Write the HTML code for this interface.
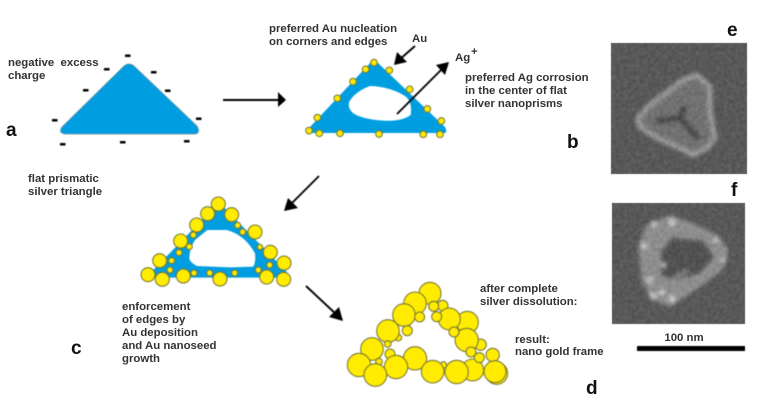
<!DOCTYPE html>
<html><head><meta charset="utf-8">
<style>
html,body{margin:0;padding:0;background:#fff;width:757px;height:407px;overflow:hidden}
svg{display:block;position:absolute;left:0;top:0}
text{font-family:"Liberation Sans",sans-serif;font-weight:bold}
.t{font-size:11.4px;fill:#333}
.l{font-size:19px;fill:#111}
.g1 circle{fill:#ffec00;stroke:#7a7836;stroke-width:3.2}
.m{fill:#000}
</style></head><body>
<svg width="757" height="407" viewBox="0 0 757 407" xmlns="http://www.w3.org/2000/svg">
<defs>
<filter id="b" x="-5%" y="-5%" width="110%" height="110%" color-interpolation-filters="sRGB"><feGaussianBlur stdDeviation="0.4"/></filter>
<filter id="tb" x="-5%" y="-20%" width="110%" height="140%" color-interpolation-filters="sRGB"><feGaussianBlur stdDeviation="0.35"/></filter>
<filter id="sem" x="-10%" y="-10%" width="120%" height="120%" color-interpolation-filters="sRGB"><feGaussianBlur stdDeviation="2"/></filter>
<filter id="noise" x="0" y="0" width="100%" height="100%" color-interpolation-filters="sRGB"><feTurbulence type="fractalNoise" baseFrequency="0.25" numOctaves="2" seed="4"/><feColorMatrix type="matrix" values="0.9 0 0 0 -0.1 0.9 0 0 0 -0.1 0.9 0 0 0 -0.1 0 0 0 0 0.14"/></filter>
<clipPath id="ce"><rect x="611" y="43" width="136" height="131"/></clipPath>
<clipPath id="cf"><rect x="612" y="203" width="133" height="121"/></clipPath>
</defs>

<g filter="url(#b)">
<!-- a -->
<path d="M124 66 Q129 62 134 66 L197 126 Q201 133 195 134 L65 134 Q58 133 62 127 Z" fill="#009ee0" stroke="#6a8a9a" stroke-width="0.7"/>
<g class="m">
<rect x="125" y="54.5" width="5.5" height="2.5"/><rect x="104" y="68" width="5.5" height="2.5"/><rect x="83" y="89" width="5.5" height="2.5"/>
<rect x="52" y="119" width="5.5" height="2.5"/><rect x="60" y="143" width="5.5" height="2.5"/><rect x="120" y="141" width="5.5" height="2.5"/>
<rect x="184" y="140" width="5.5" height="2.5"/><rect x="196" y="117.5" width="5.5" height="2.5"/><rect x="165" y="89.5" width="5.5" height="2.5"/><rect x="151" y="71" width="5.5" height="2.5"/>
</g>

<!-- b -->
<path d="M372 61 Q375 60 378 63 L445 127 Q448 133 444 133 L312 133 Q306 133 310 127 Z" fill="#009ee0"/>
<g transform="translate(260 10) scale(0.3333)">
<path d="M268 275 Q285 245 330 228 Q390 230 435 258 Q458 275 452 315 Q425 335 370 332 Q310 328 280 310 Q262 295 268 275Z" fill="#fff"/>
<g class="g1">
<circle cx="342" cy="158" r="10"/><circle cx="317" cy="178" r="10"/><circle cx="279" cy="215" r="10"/><circle cx="232" cy="265" r="10"/>
<circle cx="172" cy="323" r="10"/><circle cx="147" cy="362" r="10"/><circle cx="178" cy="370" r="10"/><circle cx="240" cy="370" r="10"/>
<circle cx="357" cy="372" r="10"/><circle cx="490" cy="373" r="10"/><circle cx="540" cy="373" r="10"/><circle cx="544" cy="333" r="10"/>
<circle cx="502" cy="297" r="10"/><circle cx="449" cy="238" r="10"/><circle cx="388" cy="181" r="10"/>
</g></g>

<!-- c -->
<g transform="translate(130 190) scale(0.3333)">
<path d="M255 50 L280 50 L470 245 L475 263 L70 263 L60 250 Z" fill="#009ee0"/>
<path d="M232 120 L290 120 Q345 135 375 190 Q378 215 370 230 L300 232 L200 228 Q178 215 178 205 Q178 175 195 150 Z" fill="#fff"/>
<g class="g1">
<circle cx="265" cy="42" r="21"/><circle cx="233" cy="71" r="21"/><circle cx="305" cy="74" r="21"/><circle cx="200" cy="105" r="21"/>
<circle cx="323" cy="106" r="9"/><circle cx="338" cy="126" r="9"/><circle cx="375" cy="126" r="21"/><circle cx="190" cy="135" r="9"/>
<circle cx="152" cy="153" r="21"/><circle cx="178" cy="170" r="9"/><circle cx="390" cy="171" r="8"/><circle cx="421" cy="187" r="21"/>
<circle cx="147" cy="188" r="9"/><circle cx="89" cy="212" r="21"/><circle cx="125" cy="212" r="9"/><circle cx="462" cy="219" r="21"/>
<circle cx="419" cy="225" r="9"/><circle cx="120" cy="240" r="9"/><circle cx="385" cy="240" r="9"/><circle cx="54" cy="254" r="21"/>
<circle cx="97" cy="268" r="21"/><circle cx="160" cy="258" r="21"/><circle cx="192" cy="249" r="9"/><circle cx="239" cy="249" r="9"/>
<circle cx="314" cy="249" r="9"/><circle cx="270" cy="267" r="21"/><circle cx="410" cy="261" r="21"/><circle cx="461" cy="268" r="21"/>
</g></g>

<!-- d -->
<g transform="translate(340 275) scale(0.3333)"><g class="g1">
<circle cx="308" cy="92" r="16"/><circle cx="270" cy="55" r="33"/><circle cx="225" cy="85" r="34"/><circle cx="192" cy="120" r="34"/>
<circle cx="281" cy="94" r="15"/><circle cx="239" cy="126" r="15"/><circle cx="382" cy="142" r="33"/><circle cx="328" cy="132" r="33"/>
<circle cx="290" cy="125" r="15"/><circle cx="175" cy="188" r="10"/><circle cx="144" cy="168" r="34"/><circle cx="202" cy="167" r="15"/>
<circle cx="422" cy="209" r="17"/><circle cx="380" cy="195" r="35"/><circle cx="342" cy="171" r="15"/><circle cx="143" cy="207" r="10"/>
<circle cx="96" cy="222" r="34"/><circle cx="150" cy="237" r="15"/><circle cx="117" cy="260" r="10"/><circle cx="225" cy="250" r="35"/>
<circle cx="458" cy="240" r="20"/><circle cx="393" cy="231" r="15"/><circle cx="57" cy="270" r="35"/><circle cx="168" cy="276" r="35"/>
<circle cx="106" cy="300" r="34"/><circle cx="310" cy="270" r="10"/><circle cx="398" cy="285" r="33"/><circle cx="418" cy="248" r="15"/>
<circle cx="278" cy="290" r="34"/><circle cx="350" cy="291" r="35"/><circle cx="470" cy="295" r="33"/><circle cx="465" cy="290" r="33"/>
</g></g>

<!-- arrows -->
<g fill="#000" stroke="none">
<rect x="223" y="99" width="56" height="2"/><path d="M278 92 L286 100 L278 107Z"/>
</g>
<g stroke="#000" stroke-width="1.9" fill="none">
<line x1="415" y1="46" x2="399" y2="60"/><line x1="397" y1="114" x2="443" y2="68"/>
<line x1="319" y1="176" x2="290" y2="205"/><line x1="306" y1="286" x2="337" y2="315"/>
</g>
<g fill="#000">
<path d="M394 65 L397 52 L407 62Z"/>
<path d="M449 62 L445 75 L436 65Z"/>
<path d="M284 211 L288 198 L298 208Z"/>
<path d="M343 321 L329 317 L339 307Z"/>
</g>
<rect x="637" y="346" width="108" height="5" fill="#000"/>
</g>

<!-- SEM e -->
<rect x="611" y="43" width="136" height="131" fill="#585858" stroke="#aaa" stroke-width="0.6"/>
<g clip-path="url(#ce)"><g filter="url(#sem)">
<path d="M697 75 L710 87 L710 112 L715 138 L707 148 L693 155 L680 148 L657 138 L640 127 L638 118 L650 105 L683 80Z" fill="#757575" stroke="#a8a8a8" stroke-width="5" stroke-linejoin="round"/>
<path d="M658 121 L680 118 L684 108 M680 118 L697 137" stroke="#434343" stroke-width="5.5" fill="none" stroke-linecap="round"/>
</g><rect x="611" y="43" width="136" height="131" filter="url(#noise)"/></g>

<!-- SEM f -->
<rect x="612" y="203" width="133" height="121" fill="#585858" stroke="#aaa" stroke-width="0.6"/>
<g clip-path="url(#cf)"><g filter="url(#sem)">
<path d="M670 217 L693 225 L717 237 L727 250 L722 268 L697 287 L670 305 L653 298 L643 280 L640 247 L647 227Z" fill="#969696" stroke="#9c9c9c" stroke-width="3" stroke-linejoin="round"/>
<path d="M672 238 L703 241 L714 257 L700 273 L676 280 L662 276 L661 252Z" fill="#505050"/>
<g fill="#e8e8e8"><circle cx="654" cy="224" r="3"/><circle cx="644" cy="246" r="3"/><circle cx="650" cy="280" r="3"/><circle cx="653" cy="296" r="3.5"/><circle cx="672" cy="299" r="3.5"/><circle cx="716" cy="240" r="2.5"/><circle cx="723" cy="260" r="2.5"/><circle cx="664" cy="265" r="2.5"/><circle cx="672" cy="222" r="3.5"/><circle cx="662" cy="292" r="3"/></g>
<path d="M672 280 L688 270" stroke="#888" stroke-width="5"/>
</g><rect x="612" y="203" width="133" height="121" filter="url(#noise)"/></g>

<!-- text -->
<g filter="url(#tb)">
<text class="t" x="8" y="66" xml:space="preserve">negative  excess</text>
<text class="t" x="8" y="79">charge</text>
<text class="t" x="28" y="182">flat prismatic</text>
<text class="t" x="28" y="195">silver triangle</text>
<text class="t" x="269" y="32">preferred Au nucleation</text>
<text class="t" x="269" y="45">on corners and edges</text>
<text class="t" x="412" y="42">Au</text>
<text class="t" x="455" y="61">Ag</text>
<text class="t" x="471" y="55">+</text>
<text class="t" x="465" y="81">preferred Ag corrosion</text>
<text class="t" x="465" y="94">in the center of flat</text>
<text class="t" x="465" y="107">silver nanoprisms</text>
<text class="t" x="122" y="310">enforcement</text>
<text class="t" x="122" y="323">of edges by</text>
<text class="t" x="122" y="336">Au deposition</text>
<text class="t" x="122" y="349">and Au nanoseed</text>
<text class="t" x="122" y="362">growth</text>
<text class="t" x="480" y="292">after complete</text>
<text class="t" x="480" y="305">silver dissolution:</text>
<text class="t" x="515" y="343">result:</text>
<text class="t" x="515" y="355">nano gold frame</text>
<text class="t" x="684" y="341" text-anchor="middle">100 nm</text>
<text class="l" x="6" y="136">a</text>
<text class="l" x="567" y="148">b</text>
<text class="l" x="71" y="354">c</text>
<text class="l" x="586" y="394">d</text>
<text class="l" x="727" y="36">e</text>
<text class="l" x="731" y="196">f</text>
</g>
</svg>
</body></html>
